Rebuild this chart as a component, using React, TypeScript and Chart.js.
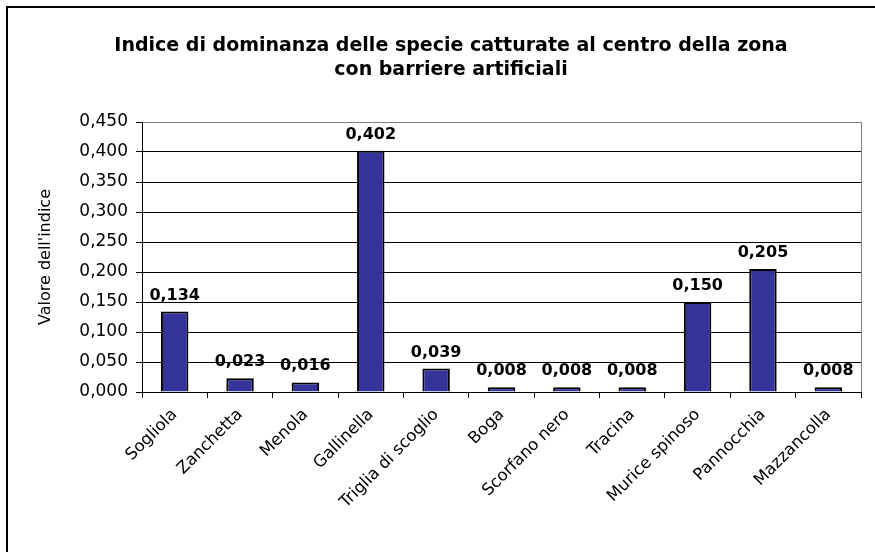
import React, { useEffect, useRef } from "react";
import { Chart, registerables } from "chart.js";

Chart.register(...registerables);

const TITLE_LINES = [
  "Indice di dominanza delle specie catturate al centro della zona",
  "con barriere artificiali",
];
const Y_TITLE = "Valore dell'indice";
const CATEGORIES = [
  "Sogliola",
  "Zanchetta",
  "Menola",
  "Gallinella",
  "Triglia di scoglio",
  "Boga",
  "Scorfano nero",
  "Tracina",
  "Murice spinoso",
  "Pannocchia",
  "Mazzancolla",
];
const VALUES = [0.134, 0.023, 0.016, 0.402, 0.039, 0.008, 0.008, 0.008, 0.15, 0.205, 0.008];
const Y_MIN = 0;
const Y_MAX = 0.45;
const Y_STEP = 0.05;

const FONT = "'DejaVu Sans', sans-serif";
const fmt = (v: number) => v.toFixed(3).replace(".", ",");

const framePlugin = {
  id: "frame",
  beforeDraw(chart: any) {
    const { ctx, width } = chart;
    ctx.save();
    ctx.fillStyle = "#fff";
    ctx.fillRect(0, 0, width, chart.height);
    ctx.fillStyle = "#000";
    ctx.fillRect(6, 6, width - 6, 2);
    ctx.fillRect(6, 6, 2, chart.height - 6);
    ctx.restore();
  },
  afterDraw(chart: any) {
    const { ctx, chartArea } = chart;
    ctx.save();
    ctx.strokeStyle = "#808080";
    ctx.lineWidth = 1;
    ctx.beginPath();
    ctx.moveTo(Math.round(chartArea.right) + 0.5, chartArea.top);
    ctx.lineTo(Math.round(chartArea.right) + 0.5, chartArea.bottom);
    ctx.stroke();
    ctx.fillStyle = "#000";
    ctx.font = `bold 19px ${FONT}`;
    ctx.textAlign = "center";
    ctx.textBaseline = "middle";
    ctx.fillText(TITLE_LINES[0], 451, 46);
    ctx.fillText(TITLE_LINES[1], 451, 70);
    ctx.restore();
  },
};

const labelPlugin = {
  id: "valueLabels",
  afterDatasetsDraw(chart: any) {
    const { ctx } = chart;
    const meta = chart.getDatasetMeta(0);
    ctx.save();
    ctx.fillStyle = "#000";
    ctx.font = `bold 16px ${FONT}`;
    ctx.textAlign = "center";
    ctx.textBaseline = "alphabetic";
    meta.data.forEach((bar: any, i: number) => {
      ctx.fillText(fmt(VALUES[i]), bar.x, bar.y - 12);
    });
    ctx.restore();
  },
};

export default function App() {
  const ref = useRef<HTMLCanvasElement | null>(null);
  useEffect(() => {
    if (!ref.current) return;
    const chart = new Chart(ref.current, {
      type: "bar",
      data: {
        labels: CATEGORIES,
        datasets: [
          {
            data: VALUES,
            backgroundColor: "#333399",
            borderColor: "#000",
            borderWidth: 2,
            barPercentage: 0.42,
            categoryPercentage: 1,
          },
        ],
      },
      options: {
        responsive: false,
        animation: false,
        layout: { padding: { left: 32, right: 14, top: 122, bottom: 0 } },
        plugins: {
          legend: { display: false },
          title: { display: false },
          tooltip: { enabled: false },
        },
        scales: {
          x: {
            grid: {
              offset: true,
              drawOnChartArea: false,
              drawTicks: true,
              tickLength: 6,
              tickColor: "#000",
            },
            border: { display: true, color: "#000", width: 1 },
            ticks: {
              color: "#000",
              font: { family: FONT, size: 16.5 },
              minRotation: 45,
              maxRotation: 45,
              autoSkip: false,
              padding: 7,
            },
            afterFit: (s: any) => {
              s.height = 160;
            },
          },
          y: {
            min: Y_MIN,
            max: Y_MAX,
            ticks: {
              stepSize: Y_STEP,
              color: "#000",
              font: { family: FONT, size: 17 },
              padding: 8,
              callback: (v: any) => fmt(Number(v)),
            },
            grid: {
              color: (c: any) => (Math.abs(c.tick.value - Y_MAX) < 1e-9 ? "#808080" : "#000"),
              tickColor: "#000",
              tickLength: 6,
            },
            border: { display: true, color: "#000", width: 1 },
            title: {
              display: true,
              text: Y_TITLE,
              color: "#000",
              font: { family: FONT, size: 16 },
              padding: { top: 4, bottom: 4 },
            },
            afterFit: (s: any) => {
              s.width = 110;
            },
          },
        },
      },
      plugins: [framePlugin, labelPlugin],
    });
    return () => chart.destroy();
  }, []);
  return (
    <div style={{ position: "absolute", left: 0, top: 0, width: 875, height: 552 }}>
      <canvas ref={ref} width={875} height={552} style={{ width: 875, height: 552 }} />
    </div>
  );
}
